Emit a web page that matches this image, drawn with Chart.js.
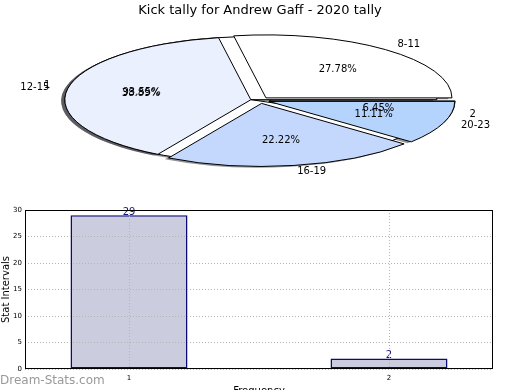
<!DOCTYPE html>
<html>
<head>
<meta charset="utf-8">
<script src="https://cdn.jsdelivr.net/npm/chart.js@4/dist/chart.umd.min.js"></script>
<style>
  html, body { margin: 0; padding: 0; background: #fff; }
  #wrap { position: relative; width: 520px; height: 390px; overflow: hidden; font-family: "DejaVu Sans", sans-serif; }
  #pie { position: absolute; left: 0; top: 0; }
  #bars { position: absolute; left: 0; top: 195px; }
  #mark { position: absolute; left: 0; top: 373px; font-size: 12px; color: #999; white-space: nowrap; }
</style>
</head>
<body>
<div id="wrap">
  <canvas id="pie" width="520" height="195"></canvas>
  <canvas id="bars" width="520" height="210"></canvas>
  <div id="mark">Dream-Stats.com</div>
</div>
<script>
const chartTitle = "Kick tally for Andrew Gaff - 2020 tally";

// kick ranges pie
const rangeLabels = ["8-11", "12-15", "16-19", "20-23"];
const rangeValues = [5, 7, 4, 2];
const rangeColors = ["#ffffff", "#eaf0fe", "#c4d8fe", "#b4d4fe"];

// frequency pie + bars
const freqLabels = ["1", "2"];
const freqValues = [29, 2];
const freqColors = ["#ffffff", "#eaf0fe"];

const yTicks = [0, 5, 10, 15, 20, 25, 30];

const FONT = "DejaVu Sans";
const pieR = 186;
const squash = 63 / 186;
const explode = 0.05 * pieR;

// pie is drawn clockwise by chart.js, reverse so it reads like the original
const rev = a => a.slice().reverse();
const midAngle = arc => (arc.startAngle + arc.endAngle) / 2;

const ellipsePie = {
    id: "ellipsePie",
    beforeDatasetsDraw(chart) {
        const ctx = chart.ctx;
        const metas = chart.data.datasets.map((d, i) => chart.getDatasetMeta(i));
        const first = metas[0].data[0];
        const cx = first.x, cy = first.y;
        const base = ctx.getTransform();
        const plainStroke = ctx.stroke;
        // keep borders 1px after squashing
        ctx.stroke = function () {
            this.save();
            this.setTransform(base);
            plainStroke.call(this);
            this.restore();
        };
        ctx.save();
        ctx.translate(cx, cy);
        ctx.scale(1, squash);
        ctx.translate(-cx, -cy);
        const paint = (arc, shadow) => {
            const m = midAngle(arc);
            ctx.save();
            ctx.translate(Math.cos(m) * explode, Math.sin(m) * explode);
            if (shadow) {
                ctx.translate(-0.02 * pieR, 0.02 * pieR);
                const o = arc.options;
                arc.options = Object.assign({}, o, {backgroundColor: "rgba(40,40,45,0.5)", borderWidth: 0});
                arc.draw(ctx);
                arc.options = o;
            } else {
                arc.draw(ctx);
            }
            ctx.restore();
        };
        metas.forEach(meta => meta.data.forEach(arc => paint(arc, true)));
        metas.forEach(meta => meta.data.forEach(arc => paint(arc, false)));
        ctx.restore();
        delete ctx.stroke;
        return false;
    },
    afterDraw(chart) {
        const ctx = chart.ctx;
        ctx.save();
        ctx.font = "10px '" + FONT + "'";
        ctx.fillStyle = "#000";
        ctx.textBaseline = "middle";
        chart.data.datasets.forEach((ds, i) => {
            const meta = chart.getDatasetMeta(i);
            const total = ds.data.reduce((s, v) => s + v, 0);
            meta.data.forEach((arc, j) => {
                const m = midAngle(arc);
                const c = Math.cos(m), s = Math.sin(m);
                const r = arc.outerRadius;
                const lx = arc.x + (1.1 * r + explode) * c;
                ctx.textAlign = lx > arc.x ? "left" : "right";
                ctx.fillText(ds.names[j], lx, arc.y + (1.1 * r + explode) * s * squash);
                ctx.textAlign = "center";
                ctx.fillText((ds.data[j] / total * 100).toFixed(2) + "%",
                    arc.x + (0.6 * r + explode) * c, arc.y + (0.6 * r + explode) * s * squash);
            });
        });
        ctx.restore();
    }
};

new Chart(document.getElementById("pie"), {
    type: "pie",
    data: {
        labels: rev(rangeLabels),
        datasets: [
            {
                names: rev(freqLabels),
                data: rev(freqValues),
                backgroundColor: rev(freqColors),
                borderColor: "#000",
                borderWidth: 1,
                hidden: true
            },
            {
                names: rev(rangeLabels),
                data: rev(rangeValues),
                backgroundColor: rev(rangeColors),
                borderColor: "#000",
                borderWidth: 1
            }
        ]
    },
    options: {
        responsive: false,
        animation: false,
        rotation: 90,
        radius: pieR,
        layout: {padding: {bottom: 13}},
        plugins: {
            legend: {display: false},
            tooltip: {enabled: false},
            title: {
                display: true,
                text: chartTitle,
                color: "#000",
                font: {family: FONT, size: 13, weight: "normal"},
                padding: {top: 3, bottom: 0}
            }
        }
    },
    plugins: [ellipsePie]
});

const barExtras = {
    id: "barExtras",
    afterDatasetsDraw(chart) {
        const ctx = chart.ctx;
        const meta = chart.getDatasetMeta(0);
        ctx.save();
        ctx.font = "10px '" + FONT + "'";
        ctx.fillStyle = "#14147f";
        ctx.textAlign = "center";
        ctx.textBaseline = "bottom";
        meta.data.forEach((bar, i) => {
            ctx.fillText(String(freqValues[i]), bar.x, bar.y + 2);
        });
        ctx.restore();
    },
    afterDraw(chart) {
        const a = chart.chartArea;
        const ctx = chart.ctx;
        ctx.save();
        ctx.strokeStyle = "#000";
        ctx.lineWidth = 1;
        ctx.strokeRect(Math.round(a.left) + 0.5, Math.round(a.top) + 0.5,
            Math.round(a.right - a.left) - 1, Math.round(a.bottom - a.top) - 1);
        ctx.restore();
    }
};

new Chart(document.getElementById("bars"), {
    type: "bar",
    data: {
        datasets: [{
            data: freqLabels.map((l, i) => ({x: Number(l), y: freqValues[i]})),
            backgroundColor: "#ccccdf",
            borderColor: "#0a0a78",
            borderWidth: 1.5,
            borderSkipped: false,
            barPercentage: 0.45,
            categoryPercentage: 1
        }]
    },
    options: {
        responsive: false,
        animation: false,
        layout: {padding: {top: 15, right: 27}},
        plugins: {legend: {display: false}, tooltip: {enabled: false}},
        scales: {
            x: {
                type: "linear",
                min: 0.6,
                max: 2.4,
                offset: false,
                afterBuildTicks: s => { s.ticks = freqLabels.map(l => ({value: Number(l)})); },
                afterFit: s => { s.height = 36; },
                ticks: {
                    color: "#000",
                    font: {family: FONT, size: 7},
                    padding: 5,
                    callback: v => String(v)
                },
                grid: {color: "#b4b4b4", lineWidth: 1, drawTicks: false, offset: false, z: 1},
                border: {display: false, dash: [1, 2]},
                title: {
                    display: true,
                    text: "Frequency",
                    color: "#000",
                    font: {family: FONT, size: 10},
                    padding: {top: 0, bottom: 8}
                }
            },
            y: {
                min: 0,
                max: 30,
                afterBuildTicks: s => { s.ticks = yTicks.map(v => ({value: v})); },
                afterFit: s => { s.width = 25; },
                ticks: {
                    color: "#000",
                    font: {family: FONT, size: 7},
                    padding: 3
                },
                grid: {color: "#b4b4b4", lineWidth: 1, drawTicks: false, z: 1},
                border: {display: false, dash: [1, 2]},
                title: {
                    display: true,
                    text: "Stat Intervals",
                    color: "#000",
                    font: {family: FONT, size: 10},
                    padding: {top: 0, bottom: 0}
                }
            }
        }
    },
    plugins: [barExtras]
});
</script>
</body>
</html>
